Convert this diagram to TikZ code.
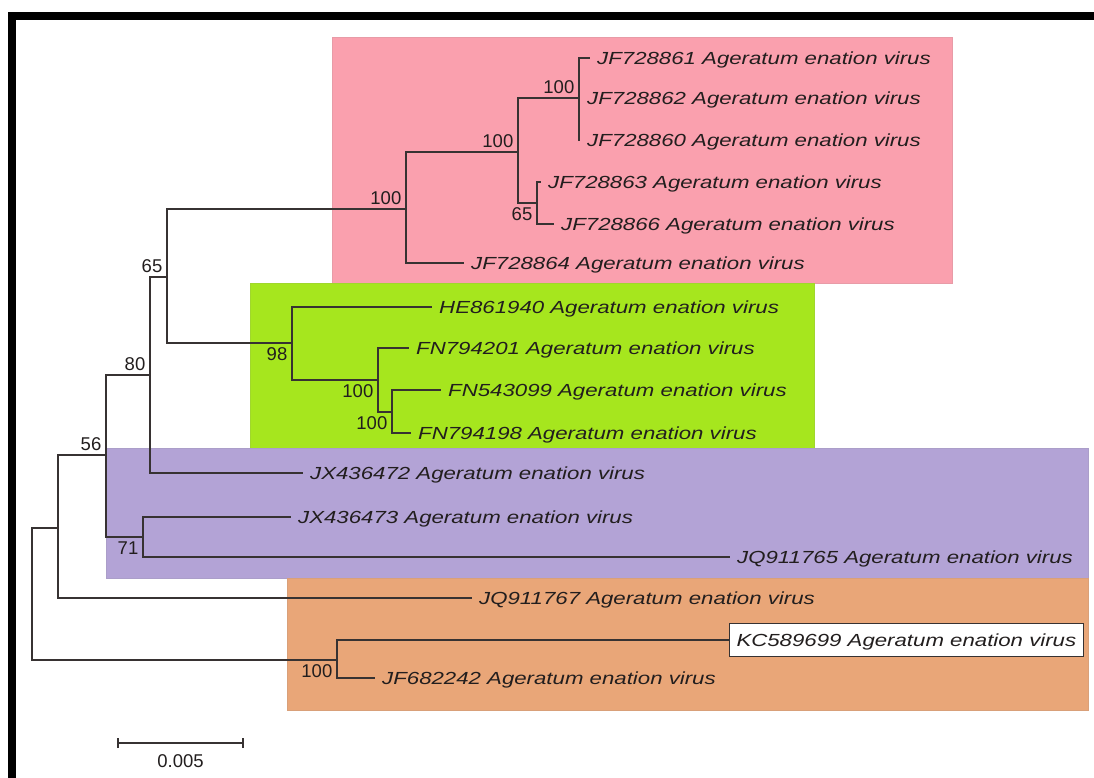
\documentclass[tikz,border=0pt]{standalone}
\usepackage{fontspec}
\setmainfont{Liberation Sans}
\newfontfamily\leaffont[FakeStretch=1.27]{Liberation Sans}

\definecolor{cladepink}{RGB}{250,160,174}
\definecolor{cladegreen}{RGB}{166,230,30}
\definecolor{cladepurple}{RGB}{179,163,214}
\definecolor{cladeorange}{RGB}{233,166,120}
\definecolor{branchgray}{RGB}{55,50,50}
\definecolor{labelgray}{RGB}{34,30,30}

\tikzset{
    branch/.style={line width=1.3pt, draw=branchgray},
    leaf/.style={anchor=west, inner xsep=7pt, inner ysep=0pt,
        text height=12.5pt, text depth=0pt, minimum height=33pt,
        text=labelgray, font=\leaffont\itshape\fontsize{17.5}{20}\selectfont},
    boot/.style={inner sep=4.5pt, text=labelgray,
        font=\fontsize{18.5}{20}\selectfont},
    clade/.style={line width=0.8pt}
}

\begin{document}
\begin{tikzpicture}[x=1pt, y=-1pt]
    \useasboundingbox (0,0) rectangle (1094,778);

    %frame
    \fill[black] (8,12) rectangle (1094,20);
    \fill[black] (8,12) rectangle (16,778);

    %clade boxes
    \filldraw[clade, fill=cladepink, draw=cladepink!85!gray] (332,37) rectangle (952,283);
    \filldraw[clade, fill=cladegreen, draw=cladegreen!85!gray] (250,283) rectangle (814,449);
    \filldraw[clade, fill=cladepurple, draw=cladepurple!85!gray] (106,448) rectangle (1088,578);
    \filldraw[clade, fill=cladeorange, draw=cladeorange!85!gray] (287,578) rectangle (1088,710);

    %internal nodes
    \foreach \n/\x/\y in {R/32/594, N12/58/528, N11/106/455, N9/150/375,
        N5/167/277, N4/406/209, N3/518/152, N1/579/98, N2/537/203,
        N8/292/343, N7/378/380, N6/392/412, N10/143/537, N13/337/660}
    {
        \coordinate (\n) at (\x,\y);
    }

    %leaves
    \foreach \name/\x/\y in {JF728861/590/58, JF728862/580/98, JF728860/580/140,
        JF728863/541/182, JF728866/554/224, JF728864/464/263,
        HE861940/432/307, FN794201/409/348, FN543099/441/390, FN794198/411/433,
        JX436472/303/473, JX436473/291/517, JQ911765/730/557,
        JQ911767/472/598, JF682242/375/678}
    {
        \node[leaf] (\name) at (\x,\y) {\name\ Ageratum enation virus};
    }
    \node[leaf, draw=branchgray, fill=white, line width=1pt] (KC589699) at (729,640)
        {KC589699 Ageratum enation virus};

    %branches
    \foreach \p/\c in {R/N12, R/N13, N12/N11, N12/JQ911767.west,
        N11/N9, N11/N10, N9/N5, N9/JX436472.west, N5/N4, N5/N8,
        N4/N3, N4/JF728864.west, N3/N1, N3/N2,
        N1/JF728861.west, N1/JF728862.west, N1/JF728860.west,
        N2/JF728863.west, N2/JF728866.west,
        N8/HE861940.west, N8/N7, N7/FN794201.west, N7/N6,
        N6/FN543099.west, N6/FN794198.west,
        N10/JX436473.west, N10/JQ911765.west,
        N13/KC589699.west, N13/JF682242.west}
    {
        \draw[branch] (\p) |- (\c);
    }

    %bootstrap values
    \foreach \n/\v/\a in {N1/100/south east, N3/100/south east, N4/100/south east,
        N5/65/south east, N9/80/south east, N11/56/south east,
        N2/65/north east, N8/98/north east, N7/100/north east,
        N6/100/north east, N10/71/north east, N13/100/north east}
    {
        \node[boot, anchor=\a] (b\n) at (\n) {\v};
    }

    %scale bar
    \coordinate (S1) at (118,743);
    \coordinate (S2) at (243,743);
    \draw[branch] (S1) -- (S2);
    \draw[branch] ([yshift=-5pt]S1) -- ([yshift=5pt]S1);
    \draw[branch] ([yshift=-5pt]S2) -- ([yshift=5pt]S2);
    \node[boot, anchor=north, inner sep=2pt] (scale) at (180.5,752) {0.005};
\end{tikzpicture}
\end{document}
